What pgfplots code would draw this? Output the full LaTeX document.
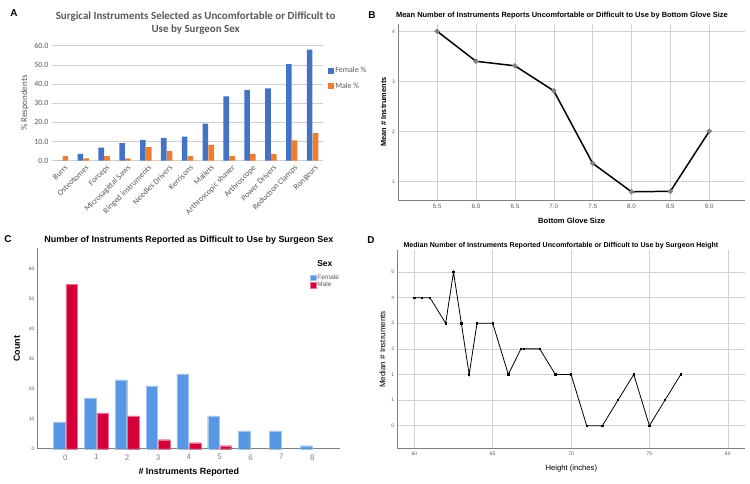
\documentclass[border=0pt]{standalone}
\usepackage{fontspec}
\setmainfont{Liberation Sans}
\newfontfamily\carlito{Carlito}
\usepackage{pgfplots}
\pgfplotsset{compat=1.18}
\definecolor{exblue}{HTML}{4472C4}
\definecolor{exorange}{HTML}{ED7D31}
\definecolor{spblue}{HTML}{5797E3}
\definecolor{spred}{HTML}{D5003A}
\definecolor{txtgray}{HTML}{595959}
\definecolor{gridgray}{HTML}{D0D0D0}
\newcommand{\fs}[1]{\fontsize{#1}{#1}\selectfont}
\begin{document}
\begin{tikzpicture}
\path[use as bounding box] (0bp,0bp) rectangle (750bp,484bp);
% panel letters
\node[font=\fs{10}\bfseries] at (14bp,471bp) {A};
\node[font=\fs{10}\bfseries] at (372bp,469bp) {B};
\node[font=\fs{10}\bfseries] at (8bp,245bp) {C};
\node[font=\fs{10}\bfseries] at (371bp,244bp) {D};

% ---------------- Panel A
\begin{axis}[at={(52bp,323.3bp)}, anchor=south west, scale only axis,
  width=271bp, height=115bp,
  xmin=-0.5, xmax=12.5, ymin=0, ymax=60,
  ytick={0,10,...,60}, xtick={0,...,12},
  xticklabels={Burrs,Osteotomes,Forceps,Microsagittal Saws,Ringed instruments,Needles Drivers,Kerrisons,Mallets,Arthroscopic shaver,Arthroscope,Power Drivers,Reduction Clamps,Rongeurs},
  x tick label style={rotate=45, anchor=north east, inner sep=1pt, font=\carlito\fs{8.2}, text=txtgray, xshift=3bp},
  y tick label style={font=\carlito\fs{8}, text=txtgray, /pgf/number format/.cd, fixed, fixed zerofill, precision=1, assume math mode=true},
  ymajorgrids, grid style={gridgray, line width=0.5pt},
  axis x line*=bottom, axis y line*=left,
  y axis line style={draw=none}, x axis line style={gridgray},
  tick style={draw=none},
  ylabel={\% Respondents}, ylabel style={font=\carlito\fs{9}, text=txtgray, yshift=-1bp},
  ybar, bar width=5.6bp,
  legend image code/.code={\fill[#1] (0bp,-2.7bp) rectangle (5.4bp,2.7bp);},
  legend style={at={(rel axis cs:1.008,0.715)}, anchor=west, draw=none, fill=none, font=\carlito\fs{8}, text=txtgray, row sep=5bp, nodes={inner sep=1.5bp}},
  legend cell align=left,
  clip=false]
\addplot[fill=exblue, draw=none, bar shift=-2.9bp] coordinates {(0,0) (1,3.5) (2,6.8) (3,9.2) (4,10.8) (5,11.8) (6,12.5) (7,19.3) (8,33.6) (9,36.9) (10,37.7) (11,50.4) (12,58.0)};
\addplot[fill=exorange, draw=none, bar shift=2.9bp] coordinates {(0,2.4) (1,1.2) (2,2.4) (3,1.2) (4,7.1) (5,5.0) (6,2.4) (7,8.3) (8,2.4) (9,3.5) (10,3.5) (11,10.6) (12,14.4)};
\legend{Female \%, Male \%}
\node[font=\carlito\fs{11}\bfseries, text=txtgray, align=center, anchor=south] at (rel axis cs:0.53,1) [yshift=8bp] {Surgical Instruments Selected as Uncomfortable or Difficult to\\[1.5bp]Use by Surgeon Sex};
\end{axis}

% ---------------- Panel B
\begin{axis}[at={(398.3bp,283.7bp)}, anchor=south west, scale only axis,
  width=346.7bp, height=176.5bp,
  xmin=5.0, xmax=9.46, ymin=0.62, ymax=4.15,
  xtick={5.5,6,6.5,7,7.5,8,8.5,9}, ytick={1,2,3,4},
  x tick label style={font=\fs{6.2}, text=txtgray, /pgf/number format/.cd, fixed, fixed zerofill, precision=1, assume math mode=true},
  y tick label style={font=\fs{5}, text=txtgray, /pgf/number format/assume math mode=true},
  grid=major, grid style={gridgray, line width=0.5pt},
  axis x line*=bottom, axis y line*=left,
  axis line style={gray, line width=0.6pt, -},
  tick style={draw=none},
  xlabel={Bottom Glove Size}, xlabel style={font=\fs{7.6}\bfseries, yshift=-3bp},
  ylabel={Mean \# Instruments}, ylabel style={font=\fs{7.4}\bfseries, yshift=-1bp},
  clip=false]
\addplot[black, line width=1.5pt, mark=*, mark options={fill=gray, draw=gray, scale=0.9}] coordinates {(5.5,4.0) (6.0,3.4) (6.5,3.31) (7.0,2.81) (7.5,1.36) (8.0,0.79) (8.5,0.80) (9.0,2.0)};
\node[font=\fs{7.5}\bfseries, anchor=south] at (rel axis cs:0.472,1) [yshift=1bp] {Mean Number of Instruments Reports Uncomfortable or Difficult to Use by Bottom Glove Size};
\end{axis}

% ---------------- Panel C
\begin{axis}[at={(37.7bp,35.3bp)}, anchor=south west, scale only axis,
  width=302.3bp, height=200.3bp,
  xmin=-0.9, xmax=8.9, ymin=0, ymax=67,
  xtick={0,...,8}, ytick={0,10,...,60},
  x tick label style={font=\fs{8}, text=gray, /pgf/number format/assume math mode=true, yshift=2bp},
  y tick label style={font=\fs{4.8}, text=txtgray, /pgf/number format/assume math mode=true},
  axis x line*=bottom, axis y line*=left,
  axis line style={gray, line width=0.6pt, -},
  tick style={draw=none},
  xlabel={\# Instruments Reported}, xlabel style={font=\fs{9}\bfseries, yshift=-1bp},
  ylabel={Count}, ylabel style={font=\fs{9}\bfseries, yshift=2bp},
  ybar, bar width=11.5bp,
  legend image code/.code={\fill[#1] (0bp,-2.7bp) rectangle (6bp,2.7bp);},
  legend style={at={(rel axis cs:0.891,0.835)}, anchor=west, draw=none, fill=none, font=\fs{6.5}, text=txtgray, row sep=0bp, nodes={inner sep=0.8bp}},
  legend cell align=left,
  clip=false]
\addplot[fill=spblue, draw=spblue!55!white, line width=0.4pt, bar shift=-6.2bp] coordinates {(0,9) (1,17) (2,23) (3,21) (4,25) (5,11) (6,6) (7,6) (8,1)};
\addplot[fill=spred, draw=spred!55!white, line width=0.4pt, bar shift=6.2bp] coordinates {(0,55) (1,12) (2,11) (3,3) (4,2) (5,1)};
\legend{Female, Male}
\node[font=\fs{8.5}\bfseries] at (rel axis cs:0.95,0.922) {Sex};
\node[font=\fs{9}\bfseries, anchor=south] at (rel axis cs:0.5,1) [yshift=0bp] {Number of Instruments Reported as Difficult to Use by Surgeon Sex};
\end{axis}

% ---------------- Panel D
\begin{axis}[at={(397.7bp,35.3bp)}, anchor=south west, scale only axis,
  width=347.3bp, height=198.4bp,
  xmin=58.94, xmax=81.1, ymin=-0.9, ymax=6.85,
  xtick={60,65,70,75,80}, ytick={0,...,6}, yticklabels={0,1,1,2,3,4,5},
  x tick label style={font=\fs{5}, text=txtgray, /pgf/number format/assume math mode=true},
  y tick label style={font=\fs{5}, text=txtgray},
  grid=major, grid style={gridgray, line width=0.5pt},
  axis x line*=bottom, axis y line*=left,
  axis line style={gray, line width=0.6pt, -},
  tick style={draw=none},
  xlabel={Height (inches)}, xlabel style={font=\fs{7.7}, yshift=-2bp},
  ylabel={Median \# Instruments}, ylabel style={font=\fs{8}, yshift=-1bp},
  clip=false]
\addplot[black, line width=0.8pt, mark=square*, mark options={scale=0.35}] coordinates {(60,5) (60.5,5) (61,5) (62,4) (62.5,6) (63,4) (63.5,2) (64,4) (65,4) (66,2) (66.8,3) (67,3) (68,3) (69,2) (70,2) (71,0) (72,0) (73,1) (74,2) (75,0) (76,1) (77,2)};
\node[font=\fs{7.1}\bfseries, anchor=south] at (rel axis cs:0.47,1) [yshift=-2bp] {Median Number of Instruments Reported Uncomfortable or Difficult to Use by Surgeon Height};
\end{axis}
\end{tikzpicture}
\end{document}
